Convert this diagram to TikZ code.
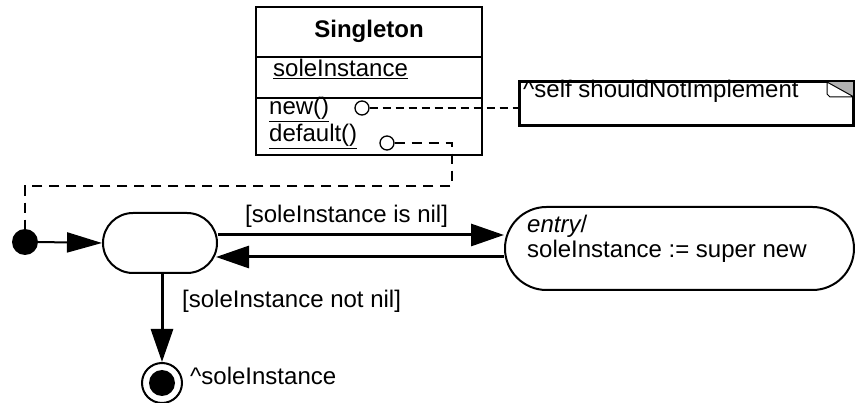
\documentclass[tikz,border=0pt]{standalone}
\usepackage{fontspec}
\setmainfont{Liberation Sans}
\usetikzlibrary{arrows.meta}
\begin{document}
\begin{tikzpicture}[x=1pt,y=-1pt,
  txt/.style={inner sep=0pt,anchor=base west,font=\fontsize{24}{28}\selectfont},
  box/.style={draw,line width=2pt,inner sep=0pt},
  stbox/.style={draw,line width=2pt,inner sep=0pt,rounded corners=#1},
  opc/.style={draw,circle,line width=1.3pt,minimum size=14pt,inner sep=0pt},
  tr/.style={line width=3pt,-{Triangle[length=33pt,width=22pt]}},
  dsh/.style={line width=1.2pt,dash pattern=on 8pt off 5pt},
  dshb/.style={line width=2.6pt,dash pattern=on 10pt off 7pt}]
\useasboundingbox (0,0) rectangle (855,403);
% class box
\node[box,minimum width=226pt,minimum height=148pt] (cls) at (369,81) {};
\draw[line width=2pt] (256,57) -- (482,57);
\draw[line width=2pt] (256,98) -- (483,98);
\node[txt,anchor=base,font=\fontsize{24}{28}\selectfont\bfseries] (cname) at (369,38) {Singleton};
\node[txt] (attr) at (273,77) {\underline{soleInstance}};
\node[txt] (op1) at (269,115) {\underline{new()}};
\node[txt] (op2) at (269,142) {\underline{default()}};
\node[opc] (c1) at (362,108) {};
\node[opc] (c2) at (387,143) {};
% note
\node[box,minimum width=333pt,minimum height=43pt] (note) at (686.5,103.5) {};
\node[txt] (ntext) at (523,98) {\^{}self shouldNotImplement};
\fill[gray!60] ([xshift=-28pt]note.north east) -- (note.north east) -- ([yshift=-16pt]note.north east) -- cycle;
\draw[line width=1pt,fill=white] ([xshift=-27pt,yshift=-1pt]note.north east) -- ([yshift=-16pt]note.north east)
  -- ([xshift=-24pt,yshift=-16pt]note.north east) -- ([xshift=-27pt,yshift=-13pt]note.north east) -- cycle;
\draw[box] (note.north west) rectangle (note.south east);
% dashed links
\draw[dsh] (c1.east) -- (c1 -| note.west);
\coordinate (k1) at (452,186);
\draw[dshb] (c2.east) -| (k1) -| (25,229);
% states
\node[fill=black,circle,minimum size=26pt,inner sep=0pt] (init) at (25,242) {};
\node[stbox=30pt,minimum width=114pt,minimum height=60pt] (s1) at (160,243) {};
\node[stbox=41.5pt,minimum width=349pt,minimum height=83pt] (s2) at (679.5,248.5) {};
\node[txt,font=\fontsize{24}{28}\selectfont\itshape] (en) at (527,233) {entry\upshape/};
\node[txt] (act) at (527,258) {soleInstance := super new};
\node[draw,circle,line width=2pt,minimum size=40pt,inner sep=0pt] (fin) at (162,383) {};
\node[fill=black,circle,minimum size=26pt,inner sep=0pt] (finin) at (fin) {};
% transitions
\draw[line width=2pt,-{Triangle[length=35pt,width=20pt]}] (init.east) -- (s1.west);
\draw[tr] ([yshift=8pt]s1.east) -- ([yshift=13.5pt]s2.west);
\draw[tr] ([yshift=-8.5pt]s2.west) -- ([yshift=-14pt,xshift=-2pt]s1.east);
\draw[tr] (162,273) -- (fin.north);
\node[txt] (g1) at (245,223) {[soleInstance is nil]};
\node[txt] (g2) at (182,308) {[soleInstance not nil]};
\node[txt] (res) at (190,385) {\^{}soleInstance};
\end{tikzpicture}
\end{document}
